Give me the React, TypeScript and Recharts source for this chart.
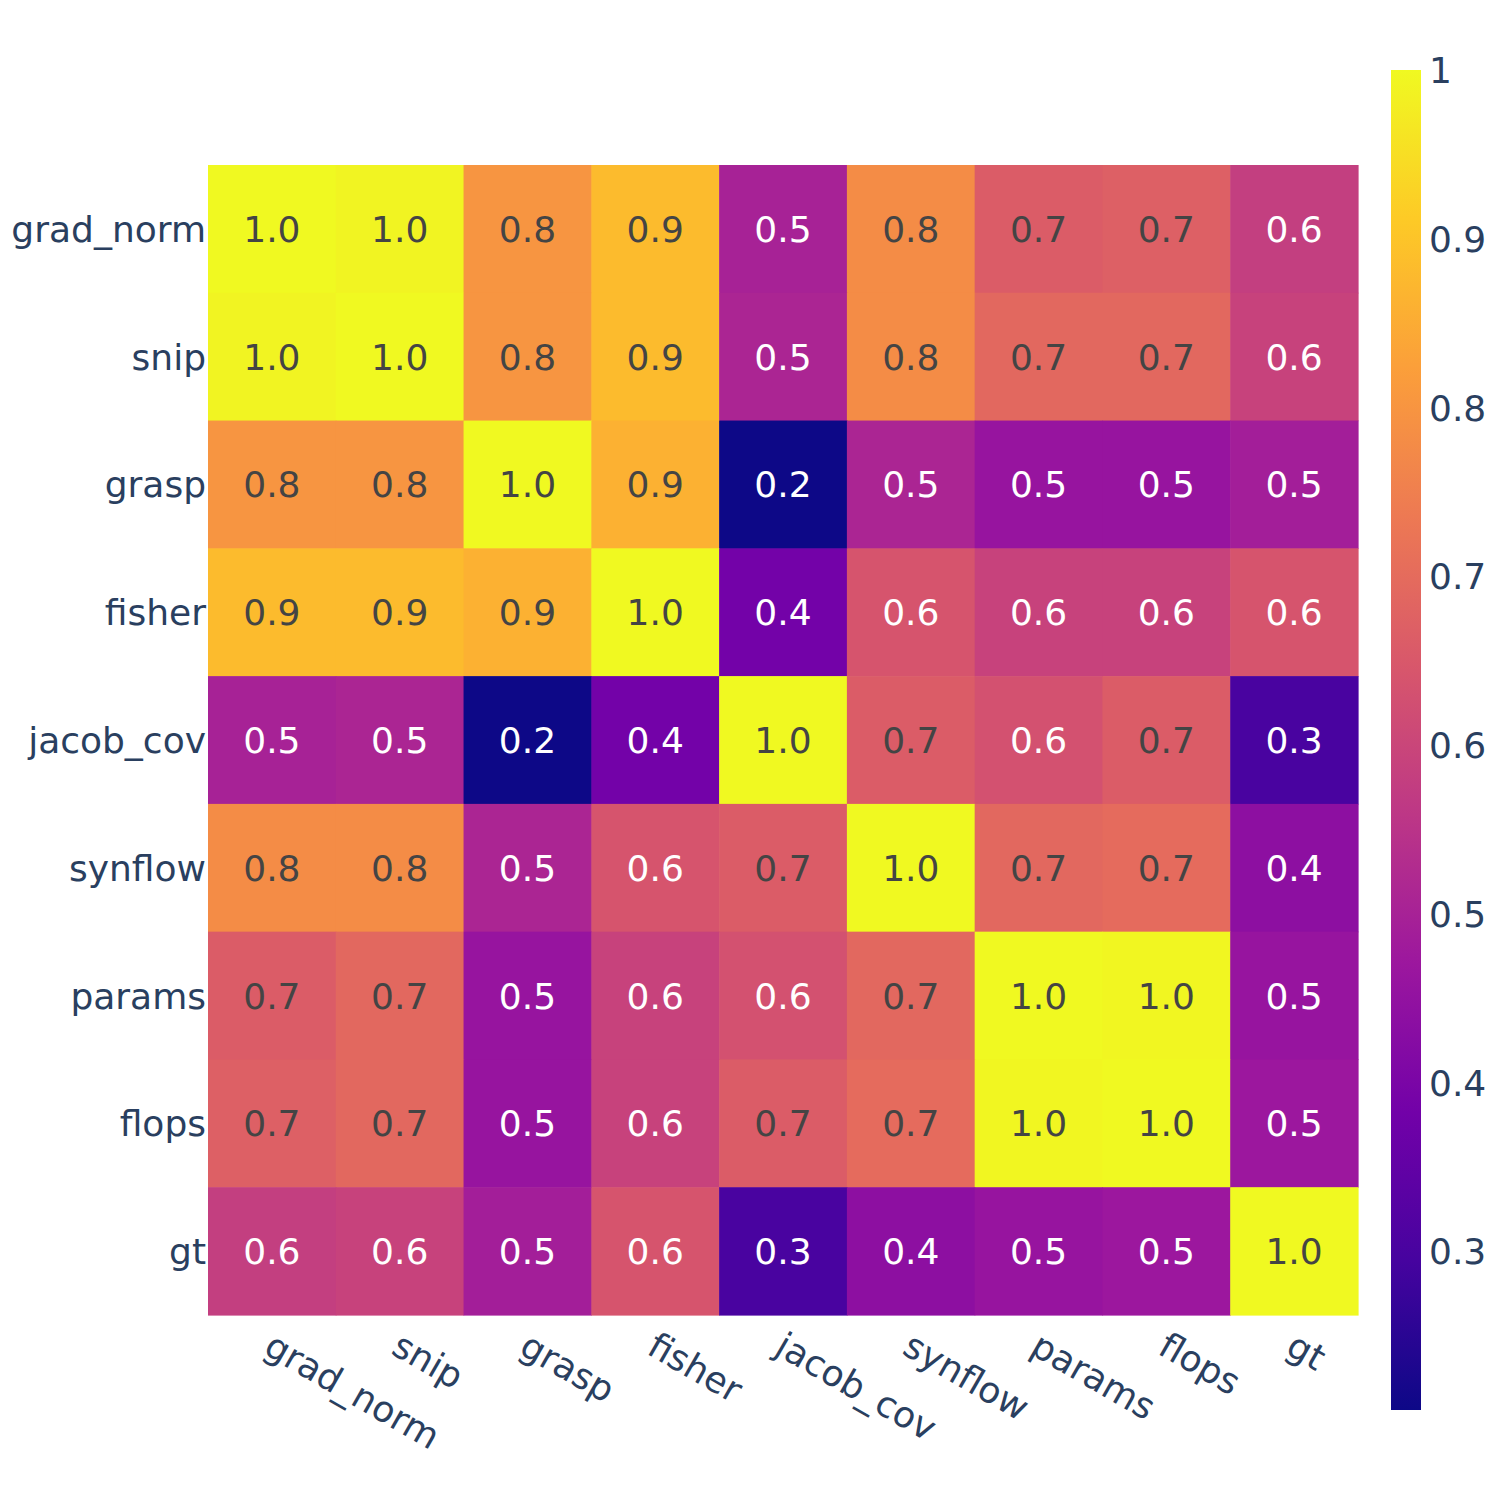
import React from 'react';
import { ScatterChart, Scatter, XAxis, YAxis, BarChart, Bar } from 'recharts';

const METRICS = ['grad_norm', 'snip', 'grasp', 'fisher', 'jacob_cov', 'synflow', 'params', 'flops', 'gt'];

// correlation rows, same order as METRICS
const ROW_GRAD_NORM = [1.0, 0.99, 0.8, 0.88, 0.5, 0.78, 0.66, 0.67, 0.58];
const ROW_SNIP = [0.99, 1.0, 0.8, 0.88, 0.51, 0.78, 0.69, 0.69, 0.59];
const ROW_GRASP = [0.8, 0.8, 1.0, 0.86, 0.206, 0.51, 0.46, 0.46, 0.49];
const ROW_FISHER = [0.88, 0.88, 0.86, 1.0, 0.385, 0.64, 0.59, 0.59, 0.64];
const ROW_JACOB_COV = [0.5, 0.51, 0.206, 0.385, 1.0, 0.66, 0.63, 0.66, 0.3];
const ROW_SYNFLOW = [0.78, 0.78, 0.51, 0.64, 0.66, 1.0, 0.69, 0.7, 0.44];
const ROW_PARAMS = [0.66, 0.69, 0.46, 0.59, 0.63, 0.69, 1.0, 0.995, 0.46];
const ROW_FLOPS = [0.67, 0.69, 0.46, 0.59, 0.66, 0.7, 0.995, 1.0, 0.47];
const ROW_GT = [0.58, 0.59, 0.49, 0.64, 0.3, 0.44, 0.46, 0.47, 1.0];

const ROWS = [ROW_GRAD_NORM, ROW_SNIP, ROW_GRASP, ROW_FISHER, ROW_JACOB_COV, ROW_SYNFLOW, ROW_PARAMS, ROW_FLOPS, ROW_GT];

const COLORBAR_TICKS = [0.3, 0.4, 0.5, 0.6, 0.7, 0.8, 0.9, 1.0];
const ZMIN = 0.206;
const ZMAX = 1.0;

const PLASMA = ['#0d0887', '#46039f', '#7201a8', '#9c179e', '#bd3786', '#d8576b', '#ed7953', '#fb9f3a', '#fdca26', '#f0f921'];

const FONT = '"DejaVu Sans", sans-serif';
const AXIS_COLOR = '#2a3f5f';
const FS = 36;

const PLOT_LEFT = 208;
const PLOT_TOP = 165;
const PLOT_RIGHT = 1358;
const PLOT_BOTTOM = 1315;
const CELL = (PLOT_RIGHT - PLOT_LEFT) / METRICS.length;

const hexToRgb = (h: string) => [1, 3, 5].map((i) => parseInt(h.slice(i, i + 2), 16));

const plasma = (v: number) => {
  const t = Math.max(0, Math.min(1, (v - ZMIN) / (ZMAX - ZMIN)));
  const pos = t * (PLASMA.length - 1);
  const i = Math.min(PLASMA.length - 2, Math.floor(pos));
  const f = pos - i;
  const a = hexToRgb(PLASMA[i]);
  const b = hexToRgb(PLASMA[i + 1]);
  const c = a.map((ch, k) => Math.round(ch + (b[k] - ch) * f));
  return `rgb(${c[0]},${c[1]},${c[2]})`;
};

const cells = ROWS.flatMap((row, r) => row.map((v, c) => ({ x: c, y: r, v })));

const HeatCell = (props: any) => {
  const { cx, cy, payload } = props;
  const v = payload.v;
  return (
    <g>
      <rect x={cx - CELL / 2} y={cy - CELL / 2} width={CELL + 0.6} height={CELL + 0.6} fill={plasma(v)} />
      <text
        x={cx}
        y={cy + 13}
        textAnchor="middle"
        fontFamily={FONT}
        fontSize={FS}
        fill={v >= 0.65 ? '#444444' : '#ffffff'}
      >
        {v.toFixed(1)}
      </text>
    </g>
  );
};

const XTick = (props: any) => {
  const { x, payload } = props;
  const tx = x - 10;
  const ty = PLOT_BOTTOM + 38;
  return (
    <text x={tx} y={ty} transform={`rotate(30, ${tx}, ${ty})`} textAnchor="start" fontFamily={FONT} fontSize={FS} fill={AXIS_COLOR}>
      {METRICS[payload.value]}
    </text>
  );
};

const YTick = (props: any) => {
  const { y, payload } = props;
  return (
    <text x={PLOT_LEFT - 2} y={y + 13} textAnchor="end" fontFamily={FONT} fontSize={FS} fill={AXIS_COLOR}>
      {METRICS[payload.value]}
    </text>
  );
};

const CbTick = (props: any) => {
  const { y, payload } = props;
  const label = payload.value === 1 ? '1' : payload.value.toFixed(1);
  return (
    <text x={49} y={y + 13} textAnchor="start" fontFamily={FONT} fontSize={FS} fill={AXIS_COLOR}>
      {label}
    </text>
  );
};

const colorbarData = [{ name: 'cb', range: [ZMIN, ZMAX] }];
const idx = METRICS.map((_, i) => i);

export default function App() {
  return (
    <div style={{ position: 'absolute', left: 0, top: 0, width: 1500, height: 1500, background: '#fff' }}>
      <ScatterChart
        width={1500}
        height={1500}
        margin={{ top: PLOT_TOP, right: 1500 - PLOT_RIGHT, bottom: 85, left: 8 }}
      >
        <XAxis
          type="number"
          dataKey="x"
          domain={[-0.5, METRICS.length - 0.5]}
          ticks={idx}
          interval={0}
          height={100}
          axisLine={false}
          tickLine={false}
          tick={<XTick />}
        />
        <YAxis
          type="number"
          dataKey="y"
          domain={[-0.5, METRICS.length - 0.5]}
          ticks={idx}
          interval={0}
          reversed
          width={200}
          axisLine={false}
          tickLine={false}
          tick={<YTick />}
        />
        <Scatter data={cells} shape={<HeatCell />} isAnimationActive={false} />
      </ScatterChart>

      <div style={{ position: 'absolute', left: 1380, top: 0 }}>
        <BarChart
          width={120}
          height={1500}
          data={colorbarData}
          margin={{ top: 70, right: 0, bottom: 90, left: 11 }}
          barCategoryGap={0}
        >
          <defs>
            <linearGradient id="plasmaGrad" x1="0" y1="1" x2="0" y2="0">
              {PLASMA.map((c, i) => (
                <stop key={c} offset={`${(i / (PLASMA.length - 1)) * 100}%`} stopColor={c} />
              ))}
            </linearGradient>
          </defs>
          <XAxis dataKey="name" type="category" hide />
          <YAxis
            orientation="right"
            type="number"
            domain={[ZMIN, ZMAX]}
            ticks={COLORBAR_TICKS}
            interval={0}
            width={79}
            axisLine={false}
            tickLine={false}
            tick={<CbTick />}
          />
          <Bar dataKey="range" fill="url(#plasmaGrad)" isAnimationActive={false} />
        </BarChart>
      </div>
    </div>
  );
}
